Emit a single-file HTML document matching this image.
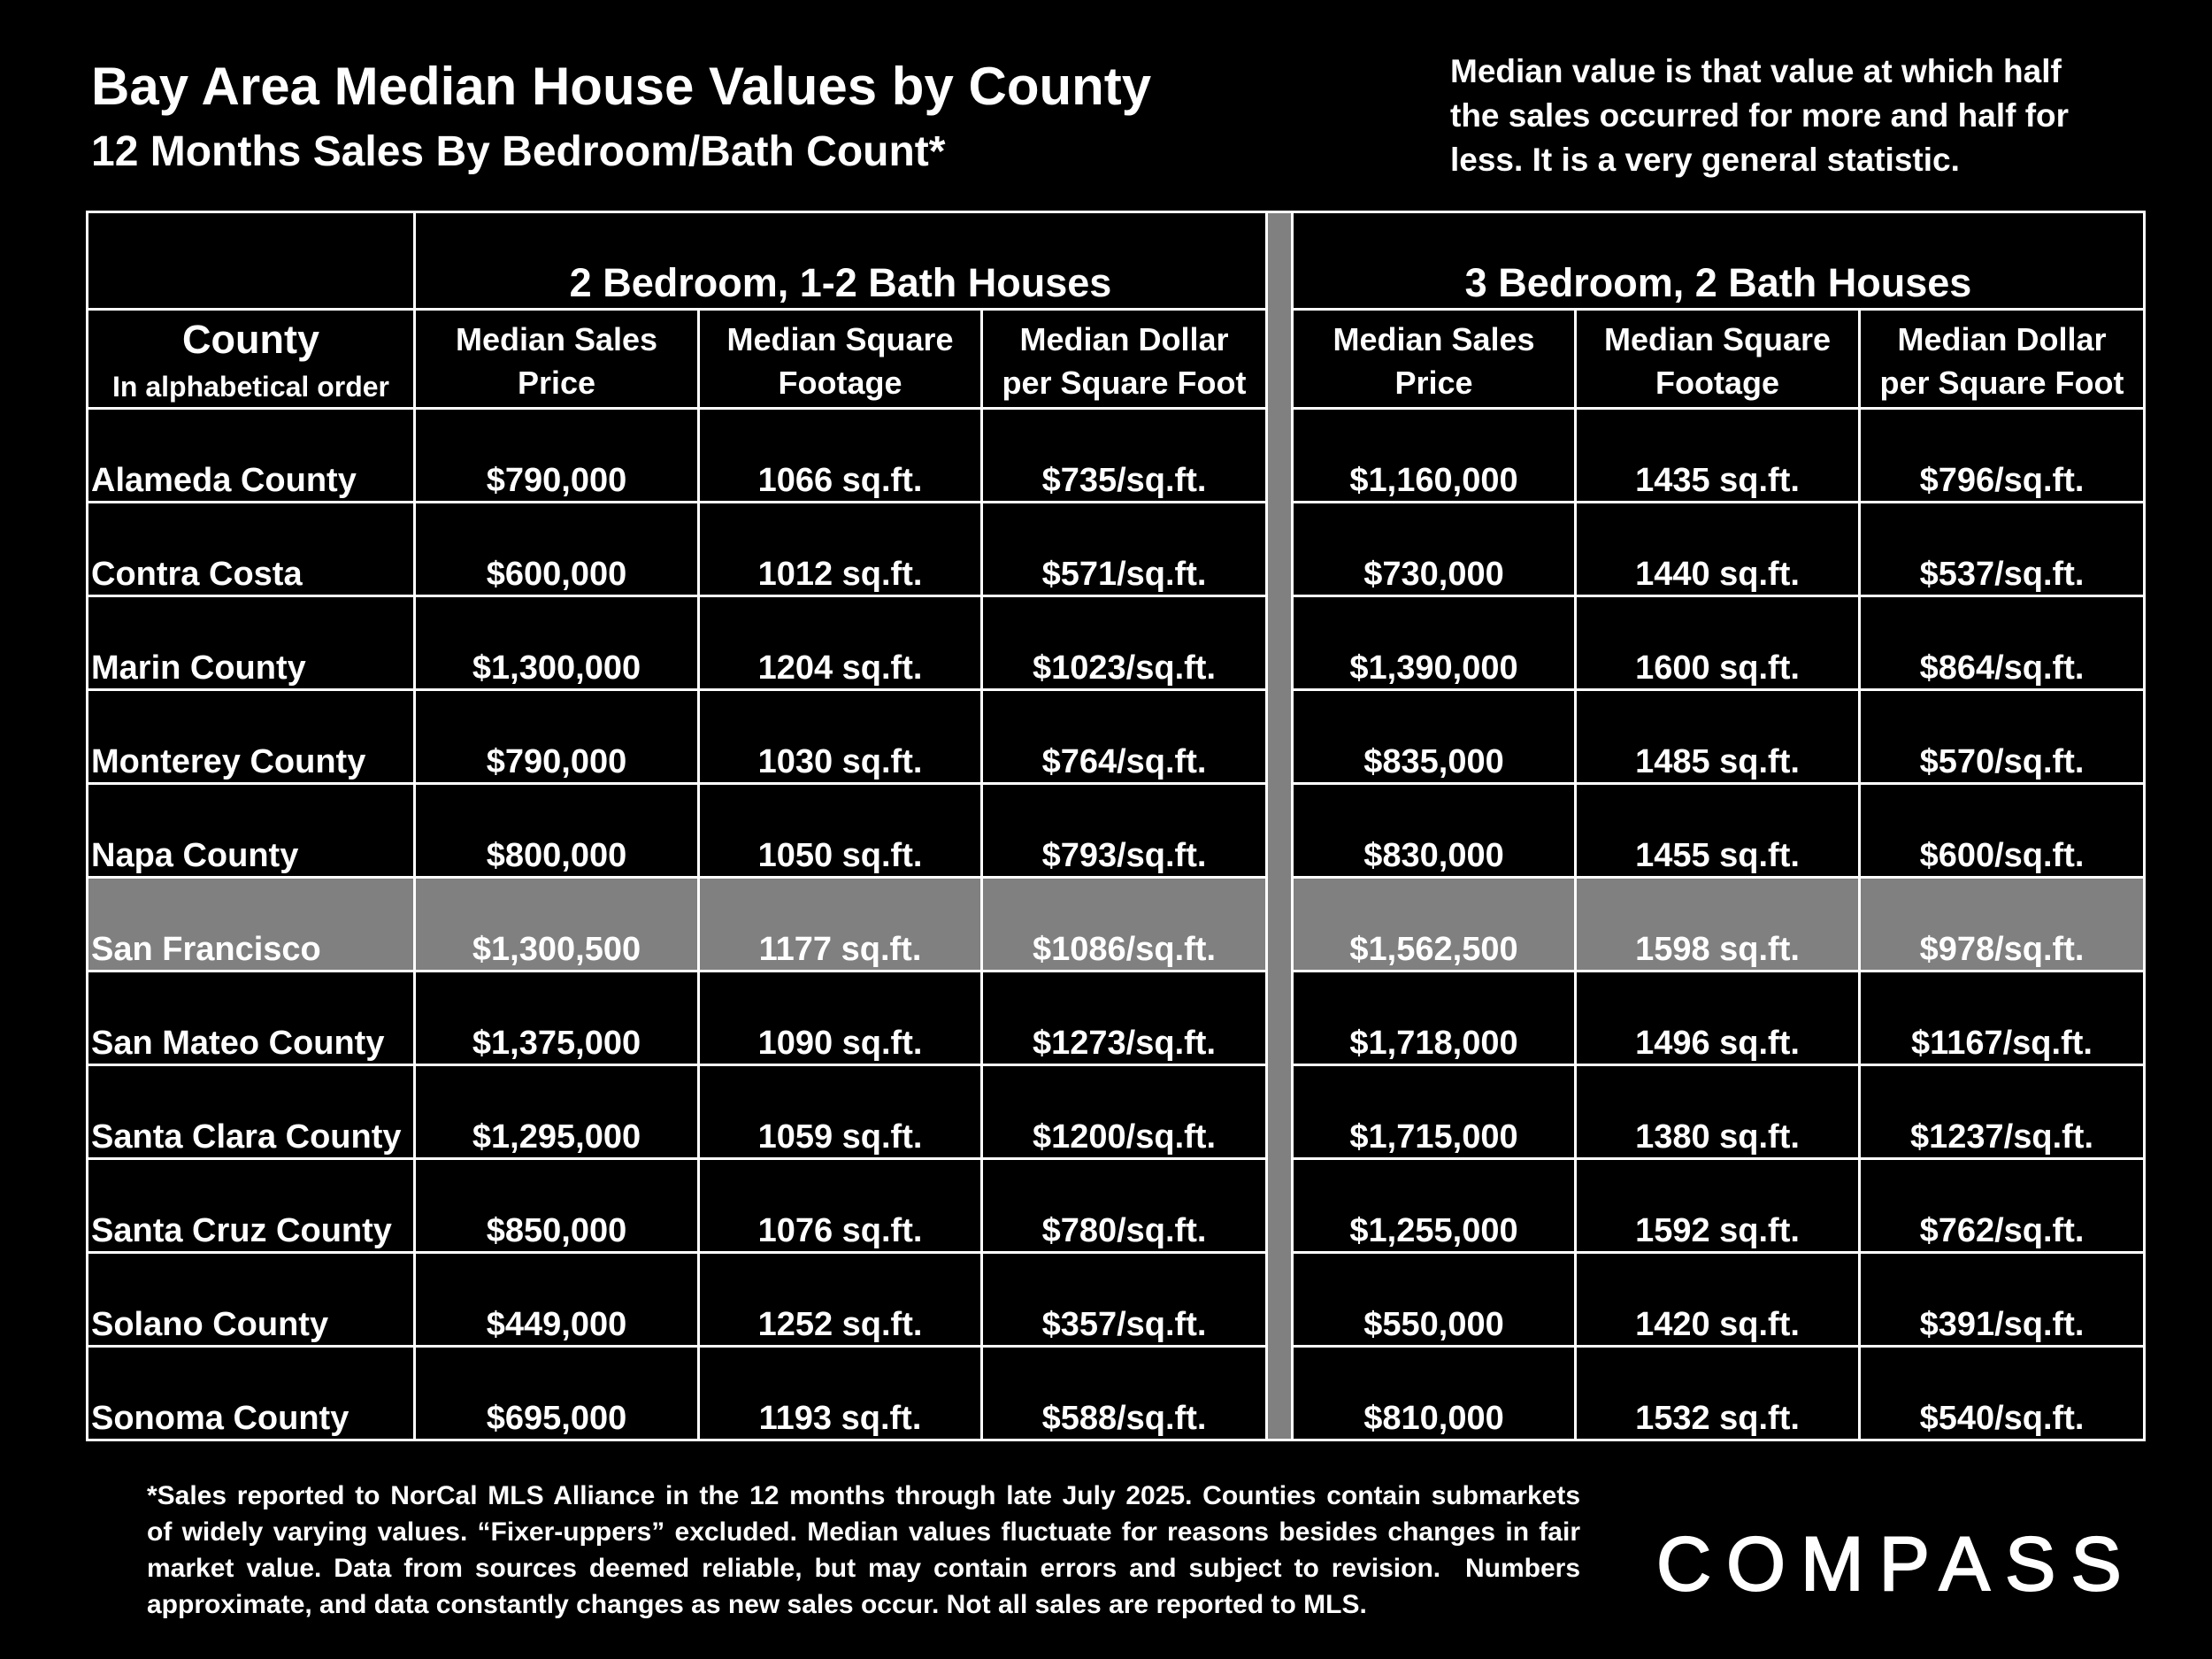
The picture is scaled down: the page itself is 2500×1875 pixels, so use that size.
<!DOCTYPE html>
<html><head><meta charset="utf-8">
<style>
html,body{margin:0;padding:0;background:#000;}
body{width:2500px;height:1875px;position:relative;overflow:hidden;color:#fff;font-family:"Liberation Sans",Arial,sans-serif;font-weight:bold;}
.abs{position:absolute;}
table{position:absolute;left:97px;top:238px;border-collapse:collapse;table-layout:fixed;}
td{border:3px solid #fff;padding:0;text-align:center;vertical-align:top;font-size:38px;line-height:40px;overflow:hidden;white-space:nowrap;}
tr.d td{height:106px;padding-top:60px;box-sizing:border-box;}
tr.d td.c{text-align:left;padding-left:3px;font-size:38px;}
td.sep{background:#808080;}
tr.sf td{background:#808080;}
.h1 td{height:110px;box-sizing:border-box;padding-top:56px;font-size:45px;line-height:46px;}
.h2 td{height:96px;box-sizing:border-box;padding-top:8px;font-size:36px;line-height:49px;}
.foot div{text-align:justify;text-align-last:justify;font-size:30px;line-height:41px;white-space:nowrap;}
</style></head><body>
<div class="abs" style="left:103px;top:66px;font-size:60px;line-height:64px;">Bay Area Median House Values by County</div>
<div class="abs" style="left:103px;top:146px;font-size:48px;line-height:52px;">12 Months Sales By Bedroom/Bath Count*</div>
<div class="abs" style="left:1639px;top:56px;font-size:37px;line-height:50px;">Median value is that value at which half<br>the sales occurred for more and half for<br>less. It is a very general statistic.</div>

<table>
<colgroup><col style="width:370px"><col style="width:321px"><col style="width:320px"><col style="width:322px"><col style="width:29px"><col style="width:320px"><col style="width:321px"><col style="width:322px"></colgroup>
<tr class="h1"><td></td><td colspan="3">2 Bedroom, 1-2 Bath Houses</td><td class="sep" rowspan="13"></td><td colspan="3">3 Bedroom, 2 Bath Houses</td></tr>
<tr class="h2"><td><span style="font-size:45px">County</span><br><span style="font-size:32px;line-height:40px">In alphabetical order</span></td><td>Median Sales<br>Price</td><td>Median Square<br>Footage</td><td>Median Dollar<br>per Square Foot</td><td>Median Sales<br>Price</td><td>Median Square<br>Footage</td><td>Median Dollar<br>per Square Foot</td></tr>
<tr class="d"><td class="c">Alameda County</td><td>$790,000</td><td>1066 sq.ft.</td><td>$735/sq.ft.</td><td>$1,160,000</td><td>1435 sq.ft.</td><td>$796/sq.ft.</td></tr>
<tr class="d"><td class="c">Contra Costa</td><td>$600,000</td><td>1012 sq.ft.</td><td>$571/sq.ft.</td><td>$730,000</td><td>1440 sq.ft.</td><td>$537/sq.ft.</td></tr>
<tr class="d"><td class="c">Marin County</td><td>$1,300,000</td><td>1204 sq.ft.</td><td>$1023/sq.ft.</td><td>$1,390,000</td><td>1600 sq.ft.</td><td>$864/sq.ft.</td></tr>
<tr class="d"><td class="c">Monterey County</td><td>$790,000</td><td>1030 sq.ft.</td><td>$764/sq.ft.</td><td>$835,000</td><td>1485 sq.ft.</td><td>$570/sq.ft.</td></tr>
<tr class="d"><td class="c">Napa County</td><td>$800,000</td><td>1050 sq.ft.</td><td>$793/sq.ft.</td><td>$830,000</td><td>1455 sq.ft.</td><td>$600/sq.ft.</td></tr>
<tr class="d sf"><td class="c">San Francisco</td><td>$1,300,500</td><td>1177 sq.ft.</td><td>$1086/sq.ft.</td><td>$1,562,500</td><td>1598 sq.ft.</td><td>$978/sq.ft.</td></tr>
<tr class="d"><td class="c">San Mateo County</td><td>$1,375,000</td><td>1090 sq.ft.</td><td>$1273/sq.ft.</td><td>$1,718,000</td><td>1496 sq.ft.</td><td>$1167/sq.ft.</td></tr>
<tr class="d"><td class="c">Santa Clara County</td><td>$1,295,000</td><td>1059 sq.ft.</td><td>$1200/sq.ft.</td><td>$1,715,000</td><td>1380 sq.ft.</td><td>$1237/sq.ft.</td></tr>
<tr class="d"><td class="c">Santa Cruz County</td><td>$850,000</td><td>1076 sq.ft.</td><td>$780/sq.ft.</td><td>$1,255,000</td><td>1592 sq.ft.</td><td>$762/sq.ft.</td></tr>
<tr class="d"><td class="c">Solano County</td><td>$449,000</td><td>1252 sq.ft.</td><td>$357/sq.ft.</td><td>$550,000</td><td>1420 sq.ft.</td><td>$391/sq.ft.</td></tr>
<tr class="d"><td class="c">Sonoma County</td><td>$695,000</td><td>1193 sq.ft.</td><td>$588/sq.ft.</td><td>$810,000</td><td>1532 sq.ft.</td><td>$540/sq.ft.</td></tr>
</table>

<div class="abs foot" style="left:166px;top:1670px;width:1620px;">
<div>*Sales reported to NorCal MLS Alliance in the 12 months through late July 2025. Counties contain submarkets</div>
<div>of widely varying values. “Fixer-uppers” excluded. Median values fluctuate for reasons besides changes in fair</div>
<div>market value. Data from sources deemed reliable, but may contain errors and subject to revision. &nbsp;Numbers</div>
<div style="text-align-last:left">approximate, and data constantly changes as new sales occur. Not all sales are reported to MLS.</div>
</div>
<div class="abs" style="left:1872px;top:1718px;font-size:86px;line-height:100px;font-weight:normal;letter-spacing:17px;-webkit-text-stroke:2px #fff;">COMPASS</div>
</body></html>
